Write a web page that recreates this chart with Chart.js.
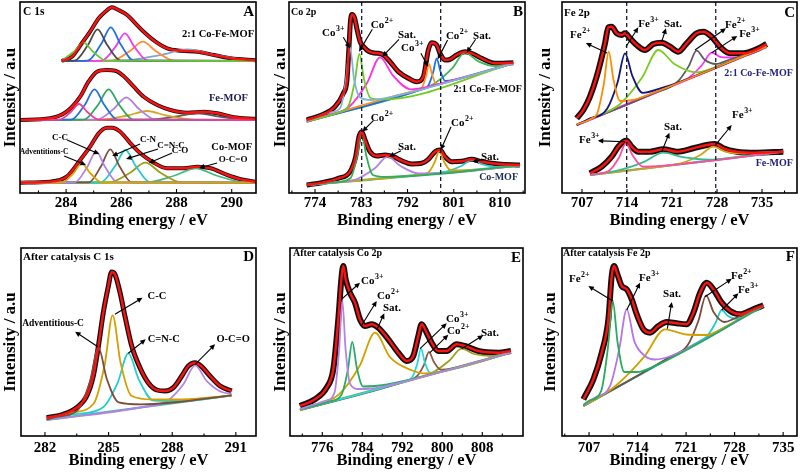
<!DOCTYPE html>
<html><head><meta charset="utf-8">
<script src="https://cdn.jsdelivr.net/npm/chart.js@4.4.1/dist/chart.umd.min.js"></script>
<style>
html,body{margin:0;padding:0;background:#fff;width:800px;height:473px;overflow:hidden;}
canvas{position:absolute;}
</style></head><body>
<canvas id="pA" width="262" height="236" style="left:0px;top:0px"></canvas>
<canvas id="pB" width="266" height="236" style="left:266px;top:0px"></canvas>
<canvas id="pC" width="267" height="236" style="left:533px;top:0px"></canvas>
<canvas id="pD" width="262" height="237" style="left:0px;top:236px"></canvas>
<canvas id="pE" width="266" height="237" style="left:266px;top:236px"></canvas>
<canvas id="pF" width="267" height="237" style="left:533px;top:236px"></canvas>
<script>
// ---------- tick labels ----------
const aTicks=[284,286,288,290];
const bTicks=[774,783,792,801,810];
const cTicks=[707,714,721,728,735];
const dTicks=[282,285,288,291];
const eTicks=[776,784,792,800,808];
const fTicks=[707,714,721,728,735];

// ---------- Panel A : C 1s (binding energy eV, intensity a.u.) ----------
const aTopEnv=[[283.84,132],[284.21,136.3],[284.57,149.7],[284.87,161.3],[285.18,174.7],[285.42,181.3],[285.66,185.7],[285.9,183],[286.21,178],[286.51,169.7],[286.87,159.7],[287.24,151.3],[287.66,144.7],[288.15,142.3],[288.75,141.3],[289.36,138],[289.96,134.7],[290.87,132.7]];
const aTopG=[[283.84,132.6],[284.28,141.2],[284.63,150.3],[284.98,141.2],[285.47,132.3],[290.87,132]];
const aTopK=[[283.84,132],[284.3,132.3],[284.79,147.9],[285.14,163.7],[285.49,147.9],[285.98,132.3],[290.87,132]];
const aTopB=[[283.84,132],[284.78,132.3],[285.27,148.9],[285.62,165.7],[285.97,148.9],[286.46,132.3],[290.87,132]];
const aTopM=[[283.84,132],[285.29,132.3],[285.78,145.9],[286.13,159.7],[286.48,145.9],[286.97,132.3],[290.87,132]];
const aTopO=[[283.84,132],[285.64,132.3],[286.3,141.7],[286.78,151.3],[287.26,141.7],[287.92,132.3],[290.87,132]];
const aTopS=[[283.84,132],[286.0,132.3],[287.4,137.9],[288.4,143.7],[289.4,137.9],[290.8,132.3],[290.87,132.2]];
const aTopBg=[[283.84,132],[290.87,132]];
const aMidEnv=[[282.33,73],[283.42,74.7],[284.02,81.3],[284.51,96.3],[284.81,111.3],[285.12,121.3],[285.48,123],[285.78,122.3],[286.08,117],[286.45,106.3],[286.81,96.3],[287.3,88],[287.78,83],[288.39,80.3],[288.99,81.3],[289.48,79.7],[290.08,75.7],[290.87,74.3]];
const aMidP=[[282.33,73],[283.75,73.3],[284.17,81],[284.47,89],[284.77,81],[285.19,73.3],[290.87,73]];
const aMidB=[[282.33,73],[284.19,73.3],[284.68,88.3],[285.03,103.7],[285.38,88.3],[285.87,73.3],[290.87,73]];
const aMidG=[[282.33,73],[284.64,73.3],[285.16,88.3],[285.54,103.7],[285.92,88.3],[286.44,73.3],[290.87,73]];
const aMidL=[[282.33,73],[285.1,73.3],[285.73,84.3],[286.18,95.7],[286.63,84.3],[287.26,73.3],[290.87,73]];
const aMidY=[[282.33,73],[285.23,73.2],[286.23,77.5],[286.93,82],[287.63,77.5],[288.63,73.2],[290.87,73]];
const aMidK=[[282.33,73],[286.85,73.2],[287.95,76.3],[288.75,79.7],[289.55,76.3],[290.65,73.2],[290.87,73.1]];
const aMidBg=[[282.33,73],[290.87,73]];
const aBotEnv=[[282.33,10.3],[283.42,11.3],[284.02,16.3],[284.51,33],[284.87,46.3],[285.18,59.7],[285.48,65.3],[285.66,65.3],[285.96,61.3],[286.33,49.7],[286.69,39.7],[287.12,31.3],[287.66,24.7],[288.27,24.7],[288.75,26.3],[289.24,24.7],[289.84,18],[290.33,13.7],[290.87,11.3]];
const aBotY=[[282.33,10.3],[283.85,10.6],[284.27,20],[284.57,29.7],[284.87,20],[285.29,10.6],[290.87,10.3]];
const aBotL=[[282.33,10.3],[284.31,10.6],[284.76,25.8],[285.09,41.3],[285.42,25.8],[285.87,10.6],[290.87,10.3]];
const aBotN=[[282.33,10.3],[284.82,10.6],[285.27,27],[285.6,43.7],[285.93,27],[286.38,10.6],[290.87,10.3]];
const aBotC=[[282.33,10.3],[285.25,10.6],[285.77,26.7],[286.15,43],[286.53,26.7],[287.05,10.6],[290.87,10.3]];
const aBotO=[[282.33,10.3],[285.55,10.6],[286.32,20.3],[286.87,30.3],[287.42,20.3],[288.19,10.6],[290.87,10.3]];
const aBotG=[[282.33,10.3],[286.89,10.5],[287.94,17.5],[288.69,24.7],[289.44,17.5],[290.49,10.5],[290.87,10.3]];
const aBotBg=[[282.33,10.3],[290.87,10.3]];

// ---------- Panel B : Co 2p ----------
const bTopEnv=[[772.38,73],[775.3,78],[777.89,86.3],[779.51,99.7],[780.2,112],[780.6,145],[780.9,172],[781.2,178.5],[781.7,175],[782.2,163],[782.8,151],[783.5,146],[784.5,141.5],[785.5,140],[786.32,139.7],[787.29,138],[788.59,131.3],[790.21,121.3],[792.16,114.7],[793.78,111.3],[795.08,116.3],[796.05,143],[796.7,150.3],[797.67,148],[798.32,139.7],[799.29,133],[800.27,133.7],[801.56,138],[803.18,141.3],[804.8,139],[806.43,134.7],[809.02,129.7],[812.59,130.3]];
const bTopLB=[[772.38,72],[776.8,80.5],[778.9,85],[780.0,112],[780.81,145.7],[781.6,114],[782.7,96],[784.8,93],[790,97.5],[812.59,129.7]];
const bTopG=[[772.38,71.5],[778.5,80.5],[780.5,87],[781.73,111.3],[782.63,139],[783.53,113.9],[784.8,95],[787,93.5],[812.59,129.7]];
const bTopM=[[772.38,71.5],[776.65,78],[780.65,86.3],[784.15,110.3],[786.65,135.7],[789.15,117.6],[792.65,103.7],[796.65,107],[812.59,129.7]];
const bTopO=[[772.38,71.3],[793.5,102.3],[794.74,104.8],[795.58,116.6],[796.18,129],[796.78,118.3],[797.62,109],[799,110.3],[812.59,129.7]];
const bTopB=[[772.38,71.3],[794.5,103.4],[795.99,107.1],[796.97,120.3],[797.67,134.7],[798.37,122.3],[799.35,112],[801,113],[812.59,129.7]];
const bTopSG=[[772.38,71.3],[795,104.2],[797.18,109.3],[800.68,124.6],[803.18,140.3],[805.68,131.9],[809.18,126.8],[812.59,130.2]];
const bTopBg=[[772.38,71.3],[812.59,129.7]];
const bBotEnv=[[772.38,8],[775.3,10.3],[778.54,14.7],[780.81,21.3],[781.91,36.3],[782.56,56.3],[783.08,61.3],[783.73,53],[784.7,41.3],[786.0,37],[787.62,38],[789.24,36.3],[790.86,32.3],[792.81,29],[794.75,29.7],[796.05,33.7],[797.35,41.3],[798.32,43],[799.29,36.3],[800.59,31.3],[802.53,31.7],[804.48,33.7],[806.43,31.3],[809.67,29],[813.88,28]];
const bBotG=[[772.38,8],[778,10.6],[780.92,15],[782.18,36.5],[783.08,60.7],[783.98,37.3],[785.24,18],[787.6,16.1],[813.88,27.3]];
const bBotL=[[772.38,8],[779,11.1],[782.14,14],[785.64,24.7],[788.14,36.3],[790.64,27],[794.14,19.6],[797,19.5],[813.88,27.3]];
const bBotY=[[772.38,8],[794,18.1],[796.03,20.5],[797.29,30.8],[798.19,42.3],[799.09,31.6],[800.35,23],[802.7,22.6],[813.88,27.3]];
const bBotC=[[772.38,8],[797,19.4],[799.68,21.7],[802.48,27],[804.48,33],[806.48,28.9],[809.28,26.2],[813.88,27.3]];
const bBotBg=[[772.38,8],[813.88,27.3]];

// ---------- Panel C : Fe 2p ----------
const cTopEnv=[[706.17,74.7],[707.21,83],[708.24,96.3],[709.28,116.3],[710.58,149.7],[711.1,165.7],[711.61,166.3],[712.39,159.7],[713.17,158],[713.69,159.7],[714.47,154.7],[715.5,148],[716.8,143],[718.09,149],[719.39,150.3],[720.69,146.3],[721.98,141.3],[723.28,149.7],[724.83,159.7],[725.87,161.3],[727.17,156.3],[728.46,146.3],[730.02,139.7],[732.09,139.7],[734.16,143.7],[735.72,149]];
const cTopO=[[706.17,68.5],[708.5,74.5],[709.35,79.4],[710.4,109.2],[711.15,141.3],[711.9,113.2],[712.95,92],[714.9,93],[717,97.5],[735.72,146.3]];
const cTopN=[[706.17,68],[707.94,73.7],[710.93,84.6],[712.54,110.8],[713.69,139.7],[714.84,116.9],[716.45,100.2],[719.44,105.2],[722,110.5],[735.72,146.3]];
const cTopG=[[706.17,68],[708.87,75.7],[712.87,88.8],[716.37,115.7],[718.87,143],[721.37,129],[724.87,120.6],[728.87,128.7],[735.72,146.3]];
const cTopK=[[706.17,68],[718,99.3],[721.83,111],[723.58,126.6],[724.83,142.3],[726.08,133.3],[727.83,129],[730,133.5],[733,139.5],[735.72,146.3]];
const cTopM=[[706.17,68],[720,104.7],[723.57,115.1],[725.67,128],[727.17,140.3],[728.67,135.9],[730.77,135.5],[733,139.5],[735.72,146.3]];
const cTopBg=[[706.17,68],[735.72,146.3]];
const cBotEnv=[[708.24,19.7],[710.06,26.3],[711.61,36.3],[712.65,46.3],[713.43,51.3],[713.95,52.3],[714.72,46.3],[715.76,41.3],[717.58,41.3],[719.65,43.7],[721.72,41.3],[724.31,44.7],[726.39,48],[727.68,49],[728.98,44.7],[731.05,41.3],[734.16,40.3],[738.31,41.3]];
const cBotP=[[708.24,18.5],[711.2,22.3],[712.74,35.2],[713.84,49.7],[714.94,36.9],[716.48,26.4],[719.3,27.1],[738.31,41.3]];
const cBotG=[[708.24,18],[712.45,22.3],[716.65,31.2],[719.65,40.3],[722.65,35.9],[726.85,33.4],[731,35.6],[738.31,41.3]];
const cBotY=[[708.24,18],[720,27.1],[722.62,30.1],[725.42,38],[727.42,46.3],[729.42,41.1],[732.22,39.5],[735,40.5],[738.31,41.3]];
const cBotBg=[[708.24,18],[738.31,41.3]];

// ---------- Panel D : After catalysis C 1s ----------
const dEnv=[[282.08,18.3],[282.86,21.7],[283.49,28.3],[283.97,40],[284.28,60],[284.52,90],[284.75,123.3],[284.99,150],[285.14,164],[285.3,161.7],[285.54,143.3],[285.77,120],[286.09,90],[286.48,68.3],[286.87,53.3],[287.27,46],[287.66,45],[288.05,48.3],[288.45,60],[288.76,70],[289.08,73.3],[289.39,69.3],[289.78,60],[290.26,50],[290.8,45]];
const dBr=[[282.08,16.5],[282.52,19.2],[283.56,26.2],[284.12,54.5],[284.52,88.3],[284.92,56.7],[285.48,33.6],[286.52,31.6],[288,33.5],[290.8,40.7]];
const dGo=[[282.08,17],[283.3,23.5],[284.29,32.3],[284.82,71.8],[285.19,120.7],[285.56,73.8],[286.09,40],[287.1,36.5],[288.5,36.5],[290.8,40.7]];
const dCy=[[282.08,16.5],[283.43,21.8],[284.73,28.5],[285.43,53.4],[285.93,82.7],[286.43,56.2],[287.13,35.3],[288.43,35],[290.8,40.7]];
const dLv=[[282.08,16],[286.5,28.5],[287.76,35.1],[288.53,51.8],[289.08,70.7],[289.63,54.9],[290.4,43.5],[290.8,42.5]];
const dBg=[[282.08,16],[290.8,40.7]];

// ---------- Panel E : After catalysis Co 2p ----------
const eEnv=[[771.53,30],[774.53,36.7],[776.87,48.3],[778.2,66.7],[779.2,116.7],[779.87,160],[780.2,170],[780.67,156.7],[781.53,143.3],[782.53,133.3],[783.53,116.7],[784.53,110],[785.87,111.7],[787.2,108.3],[789.2,96.7],[791.2,83.3],[792.87,75],[794.2,80],[795.2,100],[795.87,111.7],[796.87,103.3],[797.87,93.3],[799.2,85],[800.87,85],[802.87,91.7],[804.53,90],[807.2,85],[811.2,83.3],[813.73,85]];
const eLv=[[771.53,27],[776.75,35.5],[778.44,43.4],[779.35,85.4],[780,135],[780.65,87.2],[781.56,52],[783.25,47],[786,47.5],[790,51.5],[813.73,83.3]];
const eGr=[[771.53,26.5],[777.5,34.6],[779.84,41.3],[781.1,65.9],[782,94],[782.9,68.3],[784.16,49.5],[786.5,50],[789,51.5],[813.73,83.3]];
const eGo=[[771.53,26],[773.3,29.5],[779.33,41.6],[783.53,70.8],[786.53,103.3],[789.53,78.9],[793.73,66],[796.7,62.5],[799.5,64],[813.73,83.3]];
const eCy=[[771.53,26],[791.5,53.1],[793.93,58.4],[794.98,72],[795.73,87.3],[796.48,74.1],[797.53,63.3],[799.5,64],[813.73,83.3]];
const eBr=[[771.53,26],[792,53.8],[794.93,59.8],[796.33,71.2],[797.33,84],[798.33,73.9],[799.73,66.3],[802,67.5],[813.73,83.3]];
const eOl=[[771.53,26],[795,57.9],[797.87,62.8],[801.37,75.2],[803.87,87.3],[806.37,82],[809.87,80],[813.73,84]];
const eBg=[[771.53,26],[813.73,83.3]];

// ---------- Panel F : After catalysis Fe 2p ----------
const fEnv=[[706.18,36.7],[707.63,56.7],[708.83,83.3],[709.79,116.7],[710.27,160],[710.61,170],[711.09,161.7],[711.71,150],[712.44,146.7],[713.16,136.7],[713.88,121.7],[714.84,106.7],[715.8,103.3],[717,110],[718.21,114],[719.65,112.7],[721.09,111.7],[722.06,123.3],[723.02,143.3],[723.98,153.3],[724.94,146.7],[726.14,133.3],[727.35,125],[728.79,121.7],[730.47,126],[732.16,130.7]];
const fGr=[[706.18,31],[707,35.2],[708.74,44.9],[709.72,88],[710.42,135],[711.12,93.4],[712.1,64],[713.92,64],[716,68.5],[732.16,130]];
const fLv=[[706.18,30.5],[707.94,38.8],[710.02,49.8],[711.34,86.2],[712.44,126.7],[713.54,94.6],[715.08,80],[716.5,76.5],[719,80.5],[732.16,130]];
const fGo=[[706.18,30],[708,37],[710.77,49.7],[714.97,79.4],[717.97,106.7],[721,101.5],[724,101],[726.5,108.5],[732.16,130.5]];
const fBr=[[706.18,30],[718.38,78],[721.24,91],[722.78,115.2],[723.88,140.7],[724.98,123.7],[726.52,114],[728,117.5],[732.16,130]];
const fCy=[[706.18,30],[720,83.3],[723.98,99.5],[725.24,113],[726.14,126],[727.04,119.9],[728.3,117],[730,122.5],[732.16,130]];
const fBg=[[706.18,30],[732.16,130]];

// ---------- annotations (data coordinates) ----------
const aLabels=[{x:290.81,y:159,t:'2:1 Co-Fe-MOF',s:10.5,a:'r'},{x:290.59,y:95,t:'Fe-MOF',s:10.5,a:'r',c:'#1c1c50'},{x:290.74,y:46,t:'Co-MOF',s:10.5,a:'r'},
 {x:283.78,y:55,t:'C-C',s:9},{x:286.97,y:53,t:'C-N',s:9},{x:287.8,y:47,t:'C=N-C',s:9},{x:288.13,y:42,t:'C-O',s:9},{x:290.05,y:33,t:'O-C=O',s:9},{x:283.2,y:41,t:'Adventitions-C',s:7.5}];
const aArrows=[[284.04,53,285.2,39],[286.68,49,285.67,37],[287.33,44,286.17,34],[287.84,40,287.0,30],[289.47,30,288.82,25],[283.93,37,284.72,28]];
const bLabels=[{x:814.27,y:104,t:'2:1 Co-Fe-MOF',s:10,a:'r'},{x:813.5,y:16,t:'Co-MOF',s:10,a:'r',c:'#1c2c50'},
 {x:777.5,y:160,t:'Co',sup:'3+'},{x:787,y:168,t:'Co',sup:'2+'},{x:791.9,y:158,t:'Sat.'},{x:792.87,y:145,t:'Co',sup:'3+'},{x:801.6,y:157,t:'Co',sup:'2+'},{x:806.5,y:157,t:'Sat.'},
 {x:787,y:75,t:'Co',sup:'2+'},{x:791.9,y:46,t:'Sat.'},{x:802.6,y:70,t:'Co',sup:'2+'},{x:808.05,y:36,t:'Sat.'}];
const bArrows=[[779.5,155.7,780.8,144.7],[785.15,163.7,782.56,141.3],[790.34,153.7,787.1,136.3],[794.6,139.7,796.0,126.3],[799.8,153,797.87,133.7],[805.26,153.7,803.5,140.3],
 [785.35,72.3,783.2,61.3],[790.73,42.3,788.4,36.3],[800.46,66.3,798.46,43],[806.94,33.7,804.6,31.3]];
const bDashed=[783.08,798.45];
const cLabels=[{x:739.8,y:120,t:'2:1 Co-Fe-MOF',s:10,a:'r',c:'#22227a'},{x:739.8,y:30,t:'Fe-MOF',s:10,a:'r',c:'#22227a'},
 {x:706.7,y:158,t:'Fe',sup:'2+'},{x:717.3,y:169,t:'Fe',sup:'3+'},{x:721.15,y:169,t:'Sat.'},{x:730.8,y:168,t:'Fe',sup:'2+'},{x:733,y:159,t:'Fe',sup:'3+'},
 {x:708.1,y:53,t:'Fe',sup:'3+'},{x:721.15,y:66,t:'Sat.'},{x:731.9,y:78,t:'Fe',sup:'3+'}];
const cArrows=[[710.9,140,707.6,150],[713.84,146.3,715.76,165.7],[719.4,151.3,720.06,164.7],[724.57,143,729.4,164.7],[727.17,140.3,731.15,157],
 [713.7,51.3,709.45,52.3],[719.4,41.3,720.6,60.3],[727.84,48.7,730.28,68]];
const cDashed=[713.95,727.8];
const dLabels=[{x:287.28,y:140,t:'C-C',s:10.5},{x:282.38,y:112,t:'Adventitious-C',s:9.5},{x:287.6,y:97,t:'C=N-C',s:10.5},{x:290.87,y:97,t:'O-C=O',s:10.5}];
const dArrows=[[285.3,121.7,286.6,138.3],[284.49,89.3,283.42,104.3],[285.93,82.7,286.75,96.7],[289.08,71.7,290.02,91.7]];
const eLabels=[{x:785.94,y:155,t:'Co',sup:'3+'},{x:789.14,y:140,t:'Co',sup:'2+'},{x:789.94,y:128,t:'Sat.'},{x:802.94,y:117,t:'Co',sup:'3+'},{x:803.14,y:105,t:'Co',sup:'2+'},{x:809.54,y:103,t:'Sat.'}];
const eArrows=[[780,137.3,783.54,153.3],[783.88,110.7,786.88,135],[787.0,107.3,788.4,122.7],[795.54,87.3,800.88,112.7],[797.54,83.3,801.2,101.3],[803.88,87.3,808.2,100.7]];
const fLabels=[{x:705.56,y:157,t:'Fe',sup:'2+'},{x:715.66,y:158,t:'Fe',sup:'3+'},{x:718.98,y:142,t:'Sat.'},{x:728.93,y:160,t:'Fe',sup:'2+'},{x:729.94,y:146,t:'Fe',sup:'3+'}];
const fArrows=[[710.42,135,706.9,150],[712.44,126,714.36,153.3],[718.3,107.3,718.93,134],[723.74,139.3,727.59,157.3],[726.15,126,728.55,142.7]];

// ---------- drawing helpers ----------
const FONT='"Liberation Serif","Times New Roman",serif';
function P(a){return a.map(p=>({x:p[0],y:p[1]}));}
function ln(a,c,w){return {data:P(a),borderColor:c,borderWidth:w,pointRadius:0,fill:false,cubicInterpolationMode:'monotone'};}

function drawLab(ctx,x,y,L){
  const sz=L.s||11, ss=sz*0.72;
  const f='bold '+sz+'px '+FONT, f2='bold '+ss+'px '+FONT;
  ctx.font=f; const w1=ctx.measureText(L.t).width;
  let w2=0; if(L.sup){ctx.font=f2; w2=ctx.measureText(L.sup).width;}
  const tw=w1+w2;
  const x0=L.a==='l'?x:(L.a==='r'?x-tw:x-tw/2);
  ctx.fillStyle=L.c||'#000'; ctx.textBaseline='middle'; ctx.textAlign='left';
  ctx.font=f; ctx.fillText(L.t,x0,y);
  if(L.sup){ctx.font=f2; ctx.fillText(L.sup,x0+w1+0.5,y-sz*0.36);}
}
function drawArrow(ctx,x1,y1,x2,y2){
  const ang=Math.atan2(y2-y1,x2-x1), h=5.5, hw=2.6;
  const c=Math.cos(ang), s=Math.sin(ang);
  ctx.strokeStyle='#000'; ctx.fillStyle='#000'; ctx.lineWidth=1.1;
  ctx.beginPath(); ctx.moveTo(x1,y1); ctx.lineTo(x2-h*0.7*c,y2-h*0.7*s); ctx.stroke();
  ctx.beginPath(); ctx.moveTo(x2,y2);
  ctx.lineTo(x2-h*c+hw*s,y2-h*s-hw*c); ctx.lineTo(x2-h*c-hw*s,y2-h*s+hw*c); ctx.closePath(); ctx.fill();
}

function makePanel(id,s){
  const ds=[];
  s.env.forEach(e=>ds.push(ln(e,'#ff1010',2.4)));
  s.comps.forEach(c=>ds.push(ln(c[0],c[1],c[2]||1.8)));
  s.env.forEach(e=>ds.push(ln(e,'#111111',s.bw)));
  const extras={id:'xps',afterDatasetsDraw(chart){
    const ctx=chart.ctx, A=chart.chartArea, X=chart.scales.x, Y=chart.scales.y;
    ctx.save();
    (s.dashed||[]).forEach(v=>{
      const px=X.getPixelForValue(v);
      ctx.strokeStyle='#1a1a40'; ctx.lineWidth=1.3; ctx.setLineDash([4,3]);
      ctx.beginPath(); ctx.moveTo(px,A.top); ctx.lineTo(px,A.bottom); ctx.stroke();
    });
    ctx.setLineDash([]);
    // frame
    ctx.strokeStyle='#000'; ctx.lineWidth=1.6;
    ctx.strokeRect(A.left,A.top,A.right-A.left,A.bottom-A.top);
    // inward ticks
    ctx.lineWidth=1.1;
    const tk=s.ticks, step=tk[1]-tk[0];
    for(let v=tk[0]-step; v<=tk[tk.length-1]+step; v+=step/2){
      const px=X.getPixelForValue(v);
      if(px<=A.left+1||px>=A.right-1) continue;
      const major=Math.abs(((v-tk[0])/step)-Math.round((v-tk[0])/step))<1e-6;
      ctx.beginPath(); ctx.moveTo(px,A.bottom); ctx.lineTo(px,A.bottom-(major?4:2.5)); ctx.stroke();
    }
    (s.arrows||[]).forEach(r=>drawArrow(ctx,X.getPixelForValue(r[0]),Y.getPixelForValue(r[1]),X.getPixelForValue(r[2]),Y.getPixelForValue(r[3])));
    (s.labels||[]).forEach(L=>drawLab(ctx,X.getPixelForValue(L.x),Y.getPixelForValue(L.y),L));
    drawLab(ctx,A.left+s.title[1],A.top+s.title[2],{t:s.title[0],s:s.title[3],a:'l'});
    drawLab(ctx,A.right-2,A.top+s.letter[1],{t:s.letter[0],s:15,a:'r'});
    ctx.restore();
  }};
  new Chart(document.getElementById(id),{
    type:'line',
    data:{datasets:ds},
    options:{
      responsive:false,animation:false,devicePixelRatio:1,events:[],
      layout:{padding:{left:0,top:s.pt,right:s.pr,bottom:0}},
      plugins:{legend:{display:false},tooltip:{enabled:false}},
      scales:{
        x:{type:'linear',min:s.xmin,max:s.xmax,
          grid:{display:false,drawTicks:false},border:{display:false},
          ticks:{color:'#000',font:{family:FONT,size:15,weight:'bold'},padding:s.tp,maxRotation:0,autoSkip:false},
          afterBuildTicks:sc=>{sc.ticks=s.ticks.map(v=>({value:v}));},
          afterFit:sc=>{sc.height=s.xh;},
          title:{display:true,text:'Binding energy / eV',color:'#000',font:{family:FONT,size:16.5,weight:'bold'},padding:{top:0,bottom:s.tb}}},
        y:{type:'linear',min:0,max:s.ymax,
          grid:{display:false,drawTicks:false},border:{display:false},ticks:{display:false},
          afterFit:sc=>{sc.width=s.yw;},
          title:{display:true,text:'Intensity / a.u',color:'#000',font:{family:FONT,size:17,weight:'bold'},padding:{top:s.yp,bottom:0}}}
      }
    },
    plugins:[extras]
  });
}

makePanel('pA',{xmin:282.33,xmax:290.88,ymax:191,ticks:aTicks,yw:20,pt:2,pr:6,xh:43,tp:1,tb:5,yp:0,bw:4,
  env:[aTopEnv,aMidEnv,aBotEnv],
  comps:[[aTopG,'#66c43a'],[aTopK,'#4a4a4a'],[aTopB,'#2070e0'],[aTopM,'#f040f0'],[aTopO,'#ff8a30'],[aTopS,'#86a4c4'],[aTopBg,'#30b8d8'],
         [aMidP,'#e8409a'],[aMidB,'#2272d8'],[aMidG,'#2aa860'],[aMidL,'#b080e0'],[aMidY,'#d4a520'],[aMidK,'#5a5a5a'],[aMidBg,'#d4a520'],
         [aBotY,'#d9a400'],[aBotL,'#b482e4'],[aBotN,'#7a5242'],[aBotC,'#22cccc'],[aBotO,'#9c9c1c'],[aBotG,'#3cbc80'],[aBotBg,'#d9a400']],
  labels:aLabels,arrows:aArrows,title:['C 1s',3,10,11.5],letter:['A',10]});
makePanel('pB',{xmin:768.94,xmax:814.86,ymax:191,ticks:bTicks,yw:23,pt:2,pr:7,xh:43,tp:1,tb:5,yp:4,bw:5,
  env:[bTopEnv,bBotEnv],
  comps:[[bTopLB,'#80b4dc'],[bTopG,'#70cc20'],[bTopM,'#ff30e0'],[bTopO,'#ff9020'],[bTopB,'#1e6ee8'],[bTopSG,'#40b858'],[bTopBg,'#48a0b8',2.2],
         [bBotG,'#34ac5a'],[bBotL,'#b284e0'],[bBotY,'#d8a000'],[bBotC,'#26cccc'],[bBotBg,'#26c8c8',2.2]],
  labels:bLabels,arrows:bArrows,dashed:bDashed,title:['Co 2p',2,10,10],letter:['B',10]});
makePanel('pC',{xmin:703.89,xmax:740.44,ymax:191,ticks:cTicks,yw:29,pt:2,pr:3,xh:43,tp:1,tb:5,yp:2,bw:6,
  env:[cTopEnv,cBotEnv],
  comps:[[cTopO,'#ff8c00'],[cTopN,'#141480'],[cTopG,'#7ccc20'],[cTopK,'#5c5c5c'],[cTopM,'#ff30ff'],[cTopBg,'#ff30ff',2.6],
         [cBotP,'#ff4c9c'],[cBotG,'#36bc8a'],[cBotY,'#d4a218'],[cBotBg,'#36a8a8',2.2]],
  labels:cLabels,arrows:cArrows,dashed:cDashed,title:['Fe 2p',2,11,11],letter:['C',11]});
makePanel('pD',{xmin:280.87,xmax:291.95,ymax:188,ticks:dTicks,yw:21,pt:12,pr:6,xh:37,tp:3,tb:2,yp:0,bw:5,
  env:[dEnv],
  comps:[[dBr,'#7c4c3c'],[dGo,'#d4a000'],[dCy,'#20d0d0'],[dLv,'#b484e4'],[dBg,'#40b4a0',2.2]],
  labels:dLabels,arrows:dArrows,title:['After catalysis C 1s',2,9,11],letter:['D',9]});
makePanel('pE',{xmin:769.54,xmax:816.14,ymax:188,ticks:eTicks,yw:24,pt:12,pr:9,xh:37,tp:3,tb:2,yp:4,bw:6,
  env:[eEnv],
  comps:[[eLv,'#b484e4'],[eGr,'#26ac66'],[eGo,'#d4a000'],[eCy,'#22dcdc'],[eBr,'#8a5a4a'],[eOl,'#9ca020'],[eBg,'#9ca020',2.4]],
  labels:eLabels,arrows:eArrows,title:['After catalysis Co 2p',3,5,10],letter:['E',10]});
makePanel('pF',{xmin:703.1,xmax:737.0,ymax:188,ticks:fTicks,yw:29,pt:12,pr:3,xh:37,tp:3,tb:2,yp:7,bw:6,
  env:[fEnv],
  comps:[[fGr,'#26ac5a'],[fLv,'#b474ec'],[fGo,'#d4a000'],[fBr,'#7c4c3c'],[fCy,'#22cccc'],[fBg,'#30b0b0',2.2]],
  labels:fLabels,arrows:fArrows,title:['After catalysis Fe 2p',1,5,10],letter:['F',9]});
</script>
</body></html>
